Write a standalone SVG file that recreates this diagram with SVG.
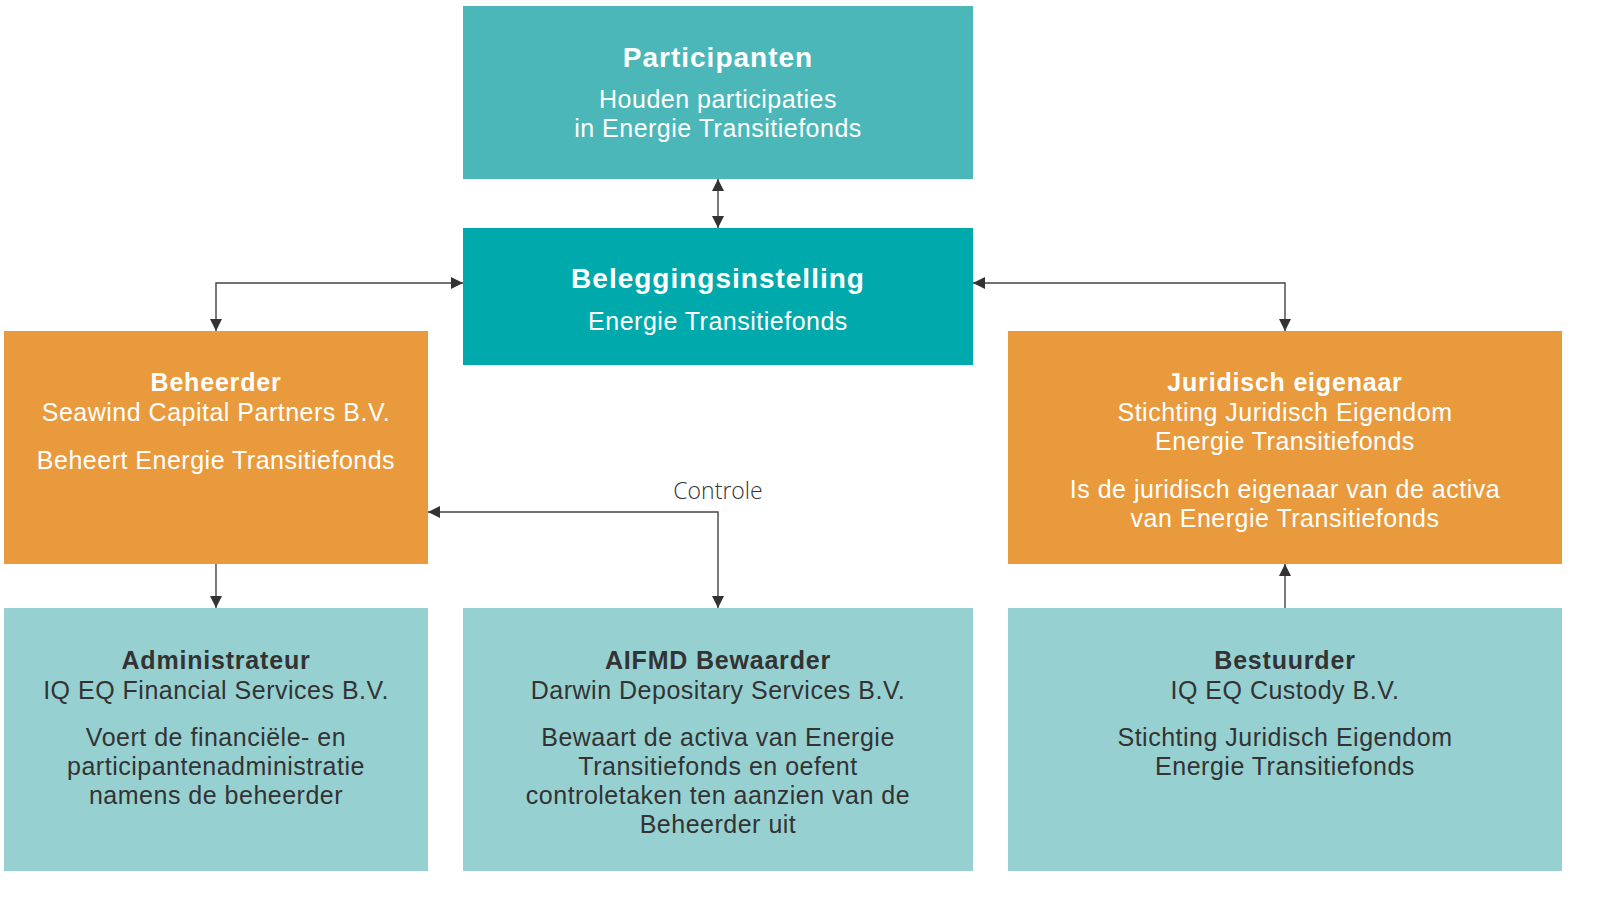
<svg xmlns="http://www.w3.org/2000/svg" width="1606" height="898" viewBox="0 0 1606 898">
<defs>
<marker id="ah" viewBox="0 0 12 12" refX="12" refY="6" markerWidth="12" markerHeight="12" markerUnits="userSpaceOnUse" orient="auto-start-reverse">
<path d="M0,0 L12,6 L0,12 Z" fill="#333"/>
</marker>
<style>
text{font-family:"Liberation Sans",Arial,sans-serif;text-anchor:middle;}
.t{font-size:28px;font-weight:700;letter-spacing:1px;}
.h{font-size:25px;font-weight:700;letter-spacing:0.8px;}
.s{font-size:25px;font-weight:400;letter-spacing:0.5px;}
.w{fill:#ffffff;}
.d{fill:#333333;}
.c{fill:none;stroke:#444;stroke-width:1.4;}
.lbl{font-family:"Open Sans",sans-serif;font-size:23px;font-weight:300;fill:#333;}
</style>
</defs>
<rect width="1606" height="898" fill="#ffffff"/>
<g id="participanten">
<rect x="463" y="6" width="510" height="173" fill="#4BB7B9"/>
<text class="t w" x="718" y="67">Participanten</text>
<text class="s w" x="718" y="108">Houden participaties</text>
<text class="s w" x="718" y="137">in Energie Transitiefonds</text>
</g>
<g id="beleggingsinstelling">
<rect x="463" y="228" width="510" height="137" fill="#00A9AC"/>
<text class="t w" x="718" y="288">Beleggingsinstelling</text>
<text class="s w" x="718" y="330">Energie Transitiefonds</text>
</g>
<g id="beheerder">
<rect x="4" y="331" width="424" height="233" fill="#E99A3C"/>
<text class="h w" x="216" y="391">Beheerder</text>
<text class="s w" x="216" y="421">Seawind Capital Partners B.V.</text>
<text class="s w" x="216" y="469">Beheert Energie Transitiefonds</text>
</g>
<g id="juridisch">
<rect x="1008" y="331" width="554" height="233" fill="#E99A3C"/>
<text class="h w" x="1285" y="391">Juridisch eigenaar</text>
<text class="s w" x="1285" y="421">Stichting Juridisch Eigendom</text>
<text class="s w" x="1285" y="450">Energie Transitiefonds</text>
<text class="s w" x="1285" y="498">Is de juridisch eigenaar van de activa</text>
<text class="s w" x="1285" y="527">van Energie Transitiefonds</text>
</g>
<g id="administrateur">
<rect x="4" y="608" width="424" height="263" fill="#96D0D1"/>
<text class="h d" x="216" y="669">Administrateur</text>
<text class="s d" x="216" y="699">IQ EQ Financial Services B.V.</text>
<text class="s d" x="216" y="746">Voert de financiële- en</text>
<text class="s d" x="216" y="775">participantenadministratie</text>
<text class="s d" x="216" y="804">namens de beheerder</text>
</g>
<g id="bewaarder">
<rect x="463" y="608" width="510" height="263" fill="#96D0D1"/>
<text class="h d" x="718" y="669">AIFMD Bewaarder</text>
<text class="s d" x="718" y="699">Darwin Depositary Services B.V.</text>
<text class="s d" x="718" y="746">Bewaart de activa van Energie</text>
<text class="s d" x="718" y="775">Transitiefonds en oefent</text>
<text class="s d" x="718" y="804">controletaken ten aanzien van de</text>
<text class="s d" x="718" y="833">Beheerder uit</text>
</g>
<g id="bestuurder">
<rect x="1008" y="608" width="554" height="263" fill="#96D0D1"/>
<text class="h d" x="1285" y="669">Bestuurder</text>
<text class="s d" x="1285" y="699">IQ EQ Custody B.V.</text>
<text class="s d" x="1285" y="746">Stichting Juridisch Eigendom</text>
<text class="s d" x="1285" y="775">Energie Transitiefonds</text>
</g>
<g id="connectors">
<path class="c" d="M718,179 L718,228" marker-start="url(#ah)" marker-end="url(#ah)"/>
<path class="c" d="M216,331 L216,283 L463,283" marker-start="url(#ah)" marker-end="url(#ah)"/>
<path class="c" d="M973,283 L1285,283 L1285,331" marker-start="url(#ah)" marker-end="url(#ah)"/>
<path class="c" d="M216,564 L216,608" marker-end="url(#ah)"/>
<path class="c" d="M428,512 L718,512 L718,608" marker-start="url(#ah)" marker-end="url(#ah)"/>
<path class="c" d="M1285,608 L1285,564" marker-end="url(#ah)"/>
<text class="lbl" x="718" y="499">Controle</text>
</g>
</svg>
